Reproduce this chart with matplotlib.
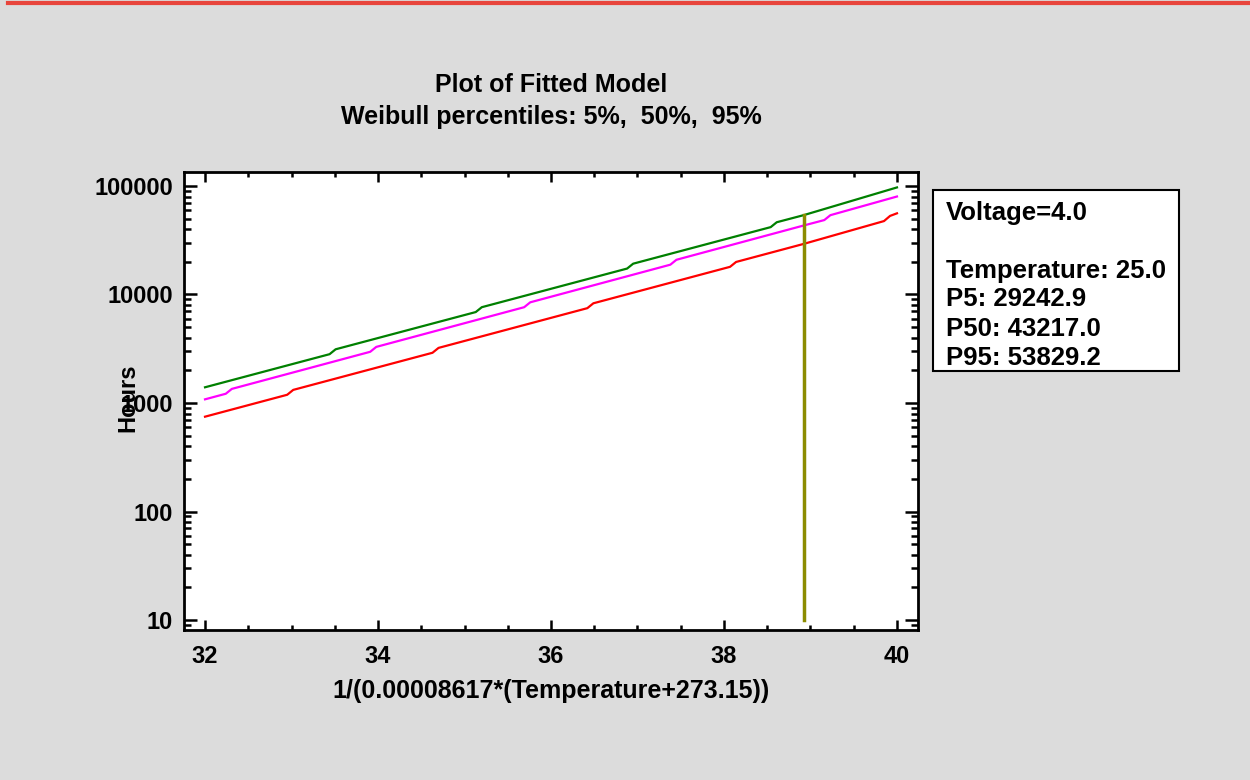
import matplotlib
matplotlib.use("Agg")
import matplotlib.pyplot as plt
from matplotlib.lines import Line2D
from matplotlib.patches import Rectangle
from matplotlib.ticker import FixedLocator, LogLocator, NullFormatter, FuncFormatter, MultipleLocator

plt.rcParams["font.family"] = ["Liberation Sans", "DejaVu Sans"]
plt.rcParams["font.weight"] = "bold"

# percentile curves (x = 1/(k*(T+273.15)), hours)
x_p95 = [32.0, 33.44, 33.51, 35.13, 35.20, 36.88, 36.95, 38.54, 38.61, 38.92, 40.0]
p95 = [1396, 2818, 3126, 6890, 7638, 17340, 19230, 41780, 46340, 53829.2, 97000]

x_p50 = [32.0, 32.24, 32.31, 33.91, 33.98, 35.69, 35.76, 37.38, 37.45, 38.92, 39.16, 39.23, 40.0]
p50 = [1081, 1217, 1349, 2965, 3289, 7638, 8472, 18830, 20890, 43217.0, 48530, 53830, 80000]

x_p5 = [32.0, 32.95, 33.02, 34.63, 34.70, 36.42, 36.49, 38.07, 38.14, 38.92, 39.85, 39.92, 40.0]
p5 = [748, 1191, 1321, 2904, 3221, 7482, 8299, 17990, 19950, 29242.9, 47500, 53000, 56000]

# selected point
voltage = 4.0
temperature = 25.0
x_sel = 1 / (0.00008617 * (temperature + 273.15))
sel_p5, sel_p50, sel_p95 = 29242.9, 43217.0, 53829.2

y_ticks = [10, 100, 1000, 10000, 100000]
x_ticks = [32, 34, 36, 38, 40]

bg = "#dcdcdc"
fig = plt.figure(figsize=(12.5, 7.8), dpi=100, facecolor=bg)
ax = fig.add_axes([0.1472, 0.1923, 0.5872, 0.5872])
ax.set_facecolor("white")

ax.plot(x_p95, p95, color="#008000", lw=1.6)
ax.plot(x_p50, p50, color="#ff00ff", lw=1.6)
ax.plot(x_p5, p5, color="#ff0000", lw=1.6)
ax.plot([x_sel, x_sel], [10, sel_p95], color="#8c8c00", lw=2.5)

ax.set_yscale("log")
ax.set_xlim(31.757, 40.243)
ax.set_ylim(8.09, 134600)

ax.xaxis.set_major_locator(FixedLocator(x_ticks))
ax.xaxis.set_minor_locator(MultipleLocator(0.5))
ax.yaxis.set_major_locator(FixedLocator(y_ticks))
ax.yaxis.set_minor_locator(LogLocator(base=10, subs=range(2, 10)))
ax.yaxis.set_minor_formatter(NullFormatter())
ax.yaxis.set_major_formatter(FuncFormatter(lambda v, p: f"{int(round(v))}"))

ax.tick_params(which="both", direction="in", top=True, right=True, width=1.8, labelsize=17)
ax.tick_params(axis="x", which="major", length=7, pad=11)
ax.tick_params(axis="x", which="minor", length=3.5)
ax.tick_params(axis="y", which="major", length=9.5, pad=8)
ax.tick_params(axis="y", which="minor", length=5)
for lbl in ax.get_xticklabels() + ax.get_yticklabels():
    lbl.set_fontweight("bold")
for s in ax.spines.values():
    s.set_linewidth(2)

ax.set_xlabel("1/(0.00008617*(Temperature+273.15))", fontsize=18, fontweight="bold", labelpad=8)
# the reference draws "Hours" on top of the 1000 tick label
ax.set_ylabel("Hours", fontsize=17, fontweight="bold")
ax.yaxis.set_label_coords(-0.061, 0.507)

fig.text(0.4408, 1 - 85 / 780, "Plot of Fitted Model", ha="center", va="center",
         fontsize=18, fontweight="bold")
fig.text(0.4408, 1 - 117 / 780, "Weibull percentiles: 5%,  50%,  95%", ha="center",
         va="center", fontsize=18, fontweight="bold")

# info box
box = Rectangle((933 / 1250, 1 - 371 / 780), 246 / 1250, 181 / 780,
                transform=fig.transFigure, facecolor="white", edgecolor="black", lw=1.5)
fig.patches.append(box)
info = [
    (213, f"Voltage={voltage:.1f}"),
    (271, f"Temperature: {temperature:.1f}"),
    (299, f"P5: {sel_p5:.1f}"),
    (329, f"P50: {sel_p50:.1f}"),
    (358, f"P95: {sel_p95:.1f}"),
]
for ypx, txt in info:
    fig.text(946 / 1250, 1 - ypx / 780, txt, ha="left", va="center",
             fontsize=18.5, fontweight="bold")

# red strip at top edge
fig.lines.append(Line2D([0.006, 1], [1 - 3 / 780, 1 - 3 / 780], transform=fig.transFigure,
                        color="#e8453c", lw=3))

fig.savefig("out.png", dpi=100, facecolor=bg)
